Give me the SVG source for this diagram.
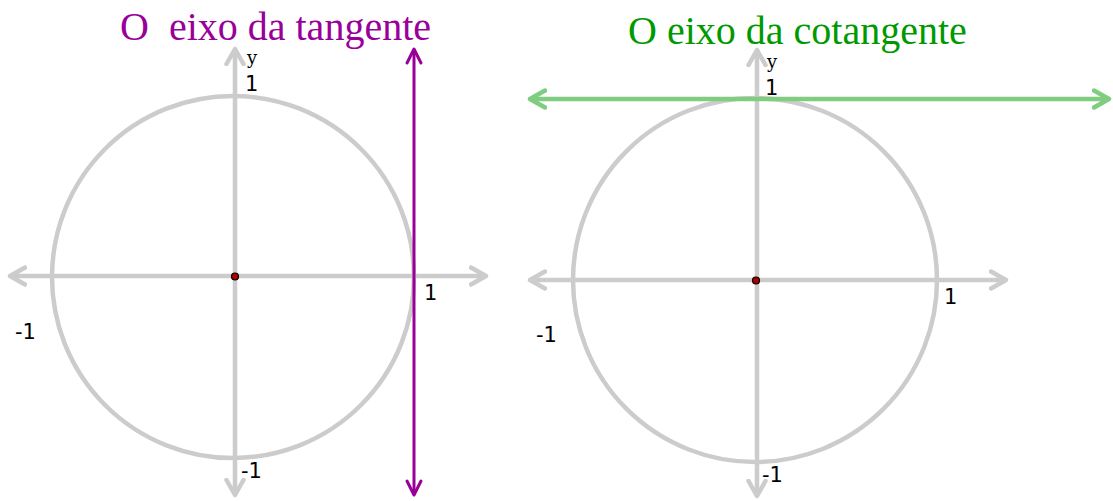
<svg xmlns="http://www.w3.org/2000/svg" width="1113" height="501" viewBox="0 0 1113 501">
<style>
.axis{stroke:#cccccc;stroke-width:4.5;fill:none}
.circ{stroke:#cccccc;stroke-width:4.5;fill:none}
.tan{stroke:#990099;stroke-width:3;fill:none}
.cot{stroke:#80cc80;stroke-width:4.5;fill:none}
.lbl{font-family:"DejaVu Sans",Verdana,sans-serif;font-size:21px;fill:#000}
.ylbl{font-family:"DejaVu Serif",serif;font-size:18px;fill:#000}
.title{font-family:"Liberation Serif","Times New Roman",serif;font-size:40px;white-space:pre}
.dot{fill:#aa0000;stroke:#000;stroke-width:1.2}
</style>
<defs>
<marker id="aGray" markerUnits="userSpaceOnUse" markerWidth="24" markerHeight="24" refX="17" refY="12" orient="auto-start-reverse"><path d="M2,3.5 L17,12 L2,20.5" fill="none" stroke="#cccccc" stroke-width="4.5" stroke-linecap="round" stroke-linejoin="round"/></marker>
<marker id="aPurple" markerUnits="userSpaceOnUse" markerWidth="24" markerHeight="24" refX="17" refY="12" orient="auto-start-reverse"><path d="M3,5 L17,12 L3,19" fill="none" stroke="#990099" stroke-width="3" stroke-linecap="round" stroke-linejoin="round"/></marker>
<marker id="aGreen" markerUnits="userSpaceOnUse" markerWidth="24" markerHeight="24" refX="17" refY="12" orient="auto-start-reverse"><path d="M2,3.5 L17,12 L2,20.5" fill="none" stroke="#80cc80" stroke-width="4.5" stroke-linecap="round" stroke-linejoin="round"/></marker>
</defs>
<rect width="1113" height="501" fill="#ffffff"/>

<g id="left-circle">
<circle class="circ" cx="233" cy="277" r="181"/>
</g>
<g id="right-circle">
<circle class="circ" cx="755" cy="280" r="182"/>
</g>

<g id="connectors">
<line class="axis" x1="10" y1="276" x2="486" y2="276" marker-start="url(#aGray)" marker-end="url(#aGray)"/>
<line class="axis" x1="235" y1="49" x2="235" y2="495" marker-start="url(#aGray)" marker-end="url(#aGray)"/>
<line class="tan" x1="414" y1="49" x2="414" y2="495" marker-start="url(#aPurple)" marker-end="url(#aPurple)"/>
<line class="axis" x1="530" y1="280" x2="1006" y2="280" marker-start="url(#aGray)" marker-end="url(#aGray)"/>
<line class="axis" x1="757" y1="50" x2="757" y2="496" marker-start="url(#aGray)" marker-end="url(#aGray)"/>
<line class="cot" x1="530" y1="99" x2="1109" y2="99" marker-start="url(#aGreen)" marker-end="url(#aGreen)"/>
</g>

<g id="left-origin"><circle class="dot" cx="235" cy="276.5" r="3.5"/></g>
<g id="right-origin"><circle class="dot" cx="756" cy="280.5" r="3.5"/></g>

<g id="left-labels">
<text class="title" x="120" y="40" fill="#990099">O  eixo da tangente</text>
<text class="ylbl" x="247" y="64">y</text>
<text class="lbl" x="245" y="91">1</text>
<text class="lbl" x="424" y="300">1</text>
<text class="lbl" x="15" y="339">-1</text>
<text class="lbl" x="241" y="478">-1</text>
</g>
<g id="right-labels">
<text class="title" x="628" y="44" fill="#009900">O eixo da cotangente</text>
<text class="ylbl" x="767" y="68">y</text>
<text class="lbl" x="765" y="95">1</text>
<text class="lbl" x="944" y="304">1</text>
<text class="lbl" x="536" y="342">-1</text>
<text class="lbl" x="762" y="482">-1</text>
</g>
</svg>
